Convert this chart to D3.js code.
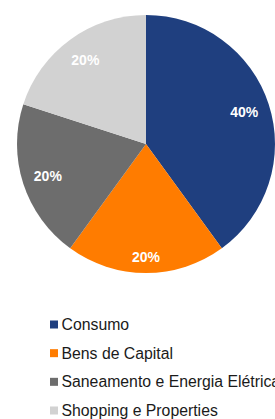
<!DOCTYPE html>
<html>
<head>
<meta charset="utf-8">
<script src="https://cdn.jsdelivr.net/npm/d3@7"></script>
<style>
  body { margin: 0; background: #fff; overflow: hidden; }
  svg { display: block; }
</style>
</head>
<body>
<script>
const categories = ['Consumo', 'Bens de Capital', 'Saneamento e Energia Elétrica', 'Shopping e Properties'];
const shares = [40, 20, 20, 20];
const colors = ['#1f3f7f', '#ff7c00', '#6d6d6d', '#d2d2d2'];

const width = 275;
const height = 419;
const cx = 146, cy = 144, radius = 129;
// Excel's best-fit pushes the bottom label a bit further out
const labelFactor = [0.8, 0.88, 0.8, 0.8];

const svg = d3.select('body')
  .append('svg')
  .attr('width', width)
  .attr('height', height);

const pie = d3.pie().sort(null).value(d => d);
const arc = d3.arc().innerRadius(0).outerRadius(radius);
const arcs = pie(shares);

const g = svg.append('g').attr('transform', `translate(${cx},${cy})`);

g.selectAll('path')
  .data(arcs)
  .enter().append('path')
  .attr('d', arc)
  .attr('fill', (d, i) => colors[i]);

g.selectAll('text')
  .data(arcs)
  .enter().append('text')
  .attr('transform', (d, i) => {
    const r = radius * labelFactor[i];
    const a = (d.startAngle + d.endAngle) / 2;
    return `translate(${r * Math.sin(a)},${-r * Math.cos(a)})`;
  })
  .attr('text-anchor', 'middle')
  .attr('dy', '0.35em')
  .attr('fill', '#fff')
  .style('font-family', 'Liberation Sans, Arial, sans-serif')
  .style('font-weight', 'bold')
  .style('font-size', '14px')
  .text(d => d.data + '%');

const legend = svg.append('g').attr('transform', 'translate(50,324.5)');
const row = d3.scalePoint().domain(categories).range([0, 86]);

const item = legend.selectAll('g')
  .data(categories)
  .enter().append('g')
  .attr('transform', d => `translate(0,${row(d)})`);

item.append('rect')
  .attr('x', 0)
  .attr('y', -4)
  .attr('width', 8)
  .attr('height', 8)
  .attr('fill', (d, i) => colors[i]);

item.append('text')
  .attr('x', 11.5)
  .attr('dy', '0.35em')
  .attr('fill', '#1a1a1a')
  .style('font-family', 'Liberation Sans, Arial, sans-serif')
  .style('font-size', '15.8px')
  .text(d => d);
</script>
</body>
</html>
